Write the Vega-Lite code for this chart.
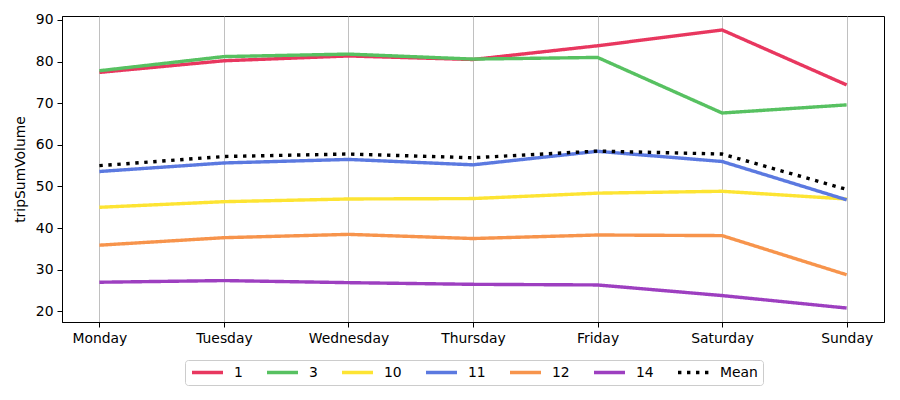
{
  "$schema": "https://vega.github.io/schema/vega-lite/v6.json",
  "width": 822,
  "height": 306,
  "autosize": {"type": "none"},
  "padding": {"left": 62, "top": 16, "right": 16, "bottom": 78},
  "background": "white",
  "config": {
    "font": "DejaVu Sans",
    "view": {"stroke": "black", "strokeWidth": 1},
    "axis": {
      "labelFont": "DejaVu Sans",
      "labelFontSize": 13.9,
      "labelColor": "black",
      "titleFont": "DejaVu Sans",
      "titleFontSize": 13.9,
      "titleFontWeight": "normal",
      "titleColor": "black",
      "domainColor": "black",
      "tickColor": "black",
      "tickSize": 5,
      "labelPadding": 4
    }
  },
  "data": {
    "values": [
      {"day": "Monday", "series": "1", "tripSumVolume": 77.4},
      {"day": "Tuesday", "series": "1", "tripSumVolume": 80.2},
      {"day": "Wednesday", "series": "1", "tripSumVolume": 81.35},
      {"day": "Thursday", "series": "1", "tripSumVolume": 80.5},
      {"day": "Friday", "series": "1", "tripSumVolume": 83.8},
      {"day": "Saturday", "series": "1", "tripSumVolume": 87.6},
      {"day": "Sunday", "series": "1", "tripSumVolume": 74.4},
      {"day": "Monday", "series": "3", "tripSumVolume": 77.8},
      {"day": "Tuesday", "series": "3", "tripSumVolume": 81.2},
      {"day": "Wednesday", "series": "3", "tripSumVolume": 81.8},
      {"day": "Thursday", "series": "3", "tripSumVolume": 80.6},
      {"day": "Friday", "series": "3", "tripSumVolume": 81.0},
      {"day": "Saturday", "series": "3", "tripSumVolume": 67.65},
      {"day": "Sunday", "series": "3", "tripSumVolume": 69.6},
      {"day": "Monday", "series": "10", "tripSumVolume": 45.0},
      {"day": "Tuesday", "series": "10", "tripSumVolume": 46.35},
      {"day": "Wednesday", "series": "10", "tripSumVolume": 47.0},
      {"day": "Thursday", "series": "10", "tripSumVolume": 47.1},
      {"day": "Friday", "series": "10", "tripSumVolume": 48.4},
      {"day": "Saturday", "series": "10", "tripSumVolume": 48.85},
      {"day": "Sunday", "series": "10", "tripSumVolume": 47.0},
      {"day": "Monday", "series": "11", "tripSumVolume": 53.6},
      {"day": "Tuesday", "series": "11", "tripSumVolume": 55.65},
      {"day": "Wednesday", "series": "11", "tripSumVolume": 56.5},
      {"day": "Thursday", "series": "11", "tripSumVolume": 55.2},
      {"day": "Friday", "series": "11", "tripSumVolume": 58.45},
      {"day": "Saturday", "series": "11", "tripSumVolume": 56.0},
      {"day": "Sunday", "series": "11", "tripSumVolume": 46.8},
      {"day": "Monday", "series": "12", "tripSumVolume": 35.9},
      {"day": "Tuesday", "series": "12", "tripSumVolume": 37.7},
      {"day": "Wednesday", "series": "12", "tripSumVolume": 38.5},
      {"day": "Thursday", "series": "12", "tripSumVolume": 37.5},
      {"day": "Friday", "series": "12", "tripSumVolume": 38.35},
      {"day": "Saturday", "series": "12", "tripSumVolume": 38.2},
      {"day": "Sunday", "series": "12", "tripSumVolume": 28.8},
      {"day": "Monday", "series": "14", "tripSumVolume": 27.0},
      {"day": "Tuesday", "series": "14", "tripSumVolume": 27.4},
      {"day": "Wednesday", "series": "14", "tripSumVolume": 26.9},
      {"day": "Thursday", "series": "14", "tripSumVolume": 26.5},
      {"day": "Friday", "series": "14", "tripSumVolume": 26.35},
      {"day": "Saturday", "series": "14", "tripSumVolume": 23.8},
      {"day": "Sunday", "series": "14", "tripSumVolume": 20.8},
      {"day": "Monday", "series": "Mean", "tripSumVolume": 55.0},
      {"day": "Tuesday", "series": "Mean", "tripSumVolume": 57.2},
      {"day": "Wednesday", "series": "Mean", "tripSumVolume": 57.8},
      {"day": "Thursday", "series": "Mean", "tripSumVolume": 56.9},
      {"day": "Friday", "series": "Mean", "tripSumVolume": 58.5},
      {"day": "Saturday", "series": "Mean", "tripSumVolume": 57.8},
      {"day": "Sunday", "series": "Mean", "tripSumVolume": 49.3}
    ]
  },
  "mark": {"type": "line", "strokeWidth": 3.4, "strokeCap": "butt"},
  "encoding": {
    "x": {
      "field": "day",
      "type": "nominal",
      "sort": ["Monday", "Tuesday", "Wednesday", "Thursday", "Friday", "Saturday", "Sunday"],
      "scale": {"type": "point", "padding": 0.3},
      "title": null,
      "axis": {"labelAngle": 0, "grid": true, "gridColor": "#b0b0b0", "gridWidth": 0.8}
    },
    "y": {
      "field": "tripSumVolume",
      "type": "quantitative",
      "title": "tripSumVolume",
      "scale": {"domain": [17.45, 90.95], "nice": false, "zero": false},
      "axis": {"values": [20, 30, 40, 50, 60, 70, 80, 90], "grid": false, "titlePadding": 8}
    },
    "color": {
      "field": "series",
      "type": "nominal",
      "scale": {
        "domain": ["1", "3", "10", "11", "12", "14", "Mean"],
        "range": ["#e8375f", "#57c161", "#fde433", "#5b79e0", "#f7944c", "#9d3fc0", "#000000"]
      },
      "legend": {
        "title": null,
        "orient": "none",
        "direction": "horizontal",
        "legendX": 123,
        "legendY": 344,
        "symbolType": "stroke",
        "symbolSize": 961,
        "symbolStrokeWidth": 3.4,
        "clipHeight": 15,
        "labelFont": "DejaVu Sans",
        "labelFontSize": 13.9,
        "labelColor": "black",
        "columnPadding": 22,
        "labelOffset": 9,
        "padding": 5,
        "strokeColor": "#cccccc",
        "cornerRadius": 3,
        "fillColor": "white"
      }
    },
    "strokeDash": {
      "field": "series",
      "type": "nominal",
      "scale": {
        "domain": ["1", "3", "10", "11", "12", "14", "Mean"],
        "range": [[1, 0], [1, 0], [1, 0], [1, 0], [1, 0], [1, 0], [3.4, 5.6]]
      },
      "legend": null
    },
    "order": {"field": "series"}
  }
}
